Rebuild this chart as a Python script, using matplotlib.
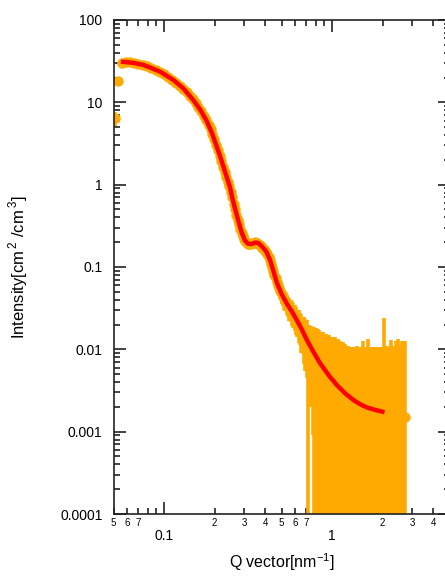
import matplotlib
matplotlib.use("Agg")
import matplotlib.pyplot as plt

plt.rcParams['font.family'] = ['Liberation Sans', 'DejaVu Sans']
plt.rcParams['mathtext.fontset'] = 'custom'
plt.rcParams['mathtext.rm'] = 'Liberation Sans'

# %% measured data (q in nm^-1, intensity, error)
q_data = [0.0510, 0.0534, 0.0559, 0.0590, 0.0625, 0.0660, 0.0700, 0.0745, 0.0790, 0.0840,
          0.0890, 0.0945, 0.1000, 0.1060, 0.1120, 0.1180, 0.1240, 0.1300, 0.1360, 0.1420,
          0.1480, 0.1540, 0.1600, 0.1660, 0.1720, 0.1780, 0.1840, 0.1890, 0.1940, 0.1990,
          0.2040, 0.2090, 0.2140, 0.2190, 0.2240, 0.2290, 0.2340, 0.2390, 0.2440, 0.2490,
          0.2540, 0.2590, 0.2640, 0.2690, 0.2740, 0.2790, 0.2840, 0.2890, 0.2940, 0.2990,
          0.3040, 0.3100, 0.3160, 0.3220, 0.3280, 0.3340, 0.3400, 0.3460, 0.3520, 0.3580,
          0.3640, 0.3700, 0.3770, 0.3840, 0.3910, 0.3980, 0.4050, 0.4120, 0.4190, 0.4260,
          0.4330, 0.4400, 0.4470, 0.4540, 0.4610, 0.4680, 0.4760, 0.4840, 0.4920, 0.5000,
          0.5090, 0.5180, 0.5270, 0.5370, 0.5470, 0.5570, 0.5670, 0.5770, 0.5880, 0.5990,
          0.6100, 0.6210, 0.6330, 0.6450, 0.6570, 0.6690, 0.6810, 0.6930, 0.7050, 0.7160,
          0.7300, 0.7450, 0.7650,
          0.78, 0.80, 0.82, 0.84, 0.86, 0.88, 0.90, 0.92, 0.94, 0.96,
          0.98, 1.00, 1.02, 1.04, 1.06, 1.08, 1.12, 1.16, 1.20, 1.24,
          1.28, 1.32, 1.36, 1.40, 1.44, 1.48, 1.52, 1.56, 1.60, 1.64,
          1.68, 1.72, 1.76, 1.80, 1.84, 1.88, 1.92, 1.96, 2.00, 2.04,
          2.08, 2.12, 2.16, 2.20, 2.24, 2.28, 2.32, 2.36, 2.40, 2.44,
          2.48, 2.52, 2.56, 2.60, 2.64, 2.68, 2.72]
I_data = [6.4, 18.2, 30.4, 31.0, 30.5, 30.0, 29.3, 28.5, 27.5, 26.3,
          25.0, 23.6, 22.1, 20.4, 18.9, 17.4, 16.0, 14.7, 13.4, 12.1,
          10.9, 9.8, 8.8, 7.8, 6.9, 6.1, 5.3, 4.7, 4.1, 3.55,
          3.05, 2.62, 2.25, 1.93, 1.66, 1.43, 1.24, 1.07, 0.95, 0.82,
          0.70, 0.59, 0.50, 0.43, 0.375, 0.33, 0.29, 0.26, 0.235, 0.217,
          0.205, 0.195, 0.190, 0.189, 0.191, 0.194, 0.197, 0.199, 0.198, 0.196,
          0.192, 0.187, 0.180, 0.172, 0.164, 0.157, 0.150, 0.142, 0.132, 0.122,
          0.110, 0.099, 0.089, 0.081, 0.073, 0.066, 0.060, 0.055, 0.051, 0.047,
          0.044, 0.041, 0.0385, 0.036, 0.034, 0.0322, 0.0305, 0.029, 0.0272, 0.0255,
          0.0238, 0.0223, 0.0208, 0.0193, 0.0180, 0.0168, 0.0156, 0.0145, 0.0135, 0.0090,
          0.0118, 0.0106, 0.0099,
          0.0094, 0.0085, 0.0077, 0.0071, 0.0066, 0.0061, 0.0057, 0.0054, 0.0050, 0.0048,
          0.0045, 0.0043, 0.0041, 0.0039, 0.0037, 0.0036, 0.0034, 0.0032, 0.0030, 0.0029,
          0.0028, 0.0026, 0.0025, 0.0024, 0.0024, 0.0023, 0.0022, 0.0021, 0.0021, 0.0020,
          0.0020, 0.0019, 0.0019, 0.0018, 0.0018, 0.0018, 0.0018, 0.0017, 0.0017, 0.0017,
          0.0017, 0.0017, 0.0016, 0.0016, 0.0016, 0.0016, 0.0016, 0.0016, 0.0015, 0.0015,
          0.0015, 0.0015, 0.0015, 0.0015, 0.0015, 0.0015, 0.0015]
err_data = [1.3, 1.7, 1.0, 0.8, 0.7, 0.6, 0.6, 0.5, 0.5, 0.5,
            0.5, 0.4, 0.4, 0.4, 0.35, 0.35, 0.3, 0.3, 0.3, 0.25,
            0.25, 0.22, 0.2, 0.18, 0.16, 0.15, 0.13, 0.12, 0.1, 0.09,
            0.08, 0.07, 0.06, 0.05, 0.05, 0.045, 0.04, 0.035, 0.03, 0.03,
            0.025, 0.022, 0.02, 0.018, 0.016, 0.015, 0.013, 0.012, 0.011, 0.011,
            0.01, 0.01, 0.01, 0.01, 0.01, 0.011, 0.011, 0.011, 0.011, 0.011,
            0.011, 0.011, 0.011, 0.011, 0.011, 0.011, 0.012, 0.012, 0.012, 0.012,
            0.012, 0.012, 0.012, 0.011, 0.011, 0.011, 0.010, 0.011, 0.010, 0.011,
            0.010, 0.011, 0.009, 0.010, 0.009, 0.010, 0.009, 0.010, 0.009, 0.009,
            0.009, 0.008, 0.009, 0.008, 0.009, 0.008, 0.009, 0.009, 0.009, 0.0090,
            0.0078, 0.0086, 0.0090,
            0.0094, 0.0097, 0.0099, 0.0101, 0.0098, 0.0102, 0.0097, 0.0100, 0.0097, 0.0101,
            0.0096, 0.0100, 0.0097, 0.0101, 0.0095, 0.0098, 0.0092, 0.0090, 0.0086, 0.0080,
            0.0078, 0.0082, 0.0081, 0.0086, 0.0080, 0.0083, 0.0106, 0.0086, 0.0082, 0.0112,
            0.0085, 0.0087, 0.0084, 0.0088, 0.0090, 0.0086, 0.0089, 0.0087, 0.0090, 0.0225,
            0.0088, 0.0092, 0.0090, 0.0087, 0.0115, 0.0089, 0.0093, 0.0088, 0.0110, 0.0091,
            0.0117, 0.0090, 0.0094, 0.0112, 0.0091, 0.0095, 0.0110]

# %% model fit
q_fit = [0.057, 0.065, 0.075, 0.0824, 0.095, 0.1135, 0.13, 0.149, 0.165, 0.1795,
         0.193, 0.2056, 0.2155, 0.2255, 0.237, 0.247, 0.2535, 0.265, 0.277, 0.29,
         0.303, 0.315, 0.33, 0.35, 0.365, 0.38, 0.395, 0.408, 0.428, 0.447,
         0.468, 0.50, 0.537, 0.575, 0.616, 0.66, 0.707, 0.77, 0.847, 0.95,
         1.065, 1.2, 1.34, 1.47, 1.61, 1.8, 1.99]
I_fit = [31, 30.2, 28.5, 26.5, 23.5, 18.7, 14.8, 10.7, 8.0, 5.9,
         4.2, 2.9, 2.2, 1.65, 1.2, 0.92, 0.72, 0.5, 0.36, 0.26,
         0.21, 0.192, 0.19, 0.198, 0.195, 0.18, 0.165, 0.15, 0.12, 0.09,
         0.065, 0.047, 0.036, 0.029, 0.0227, 0.0175, 0.013, 0.0095, 0.0068, 0.0049,
         0.0037, 0.0029, 0.00242, 0.00215, 0.00197, 0.00184, 0.00175]

y_ticks = [1e2, 1e1, 1, 1e-1, 1e-2, 1e-3, 1e-4]
y_labels = ["100", "10", "1", "0.1", "0.01", "0.001", "0.0001"]
x_major = [0.1, 1]
x_major_labels = ["0.1", "1"]
x_minor = [0.05, 0.06, 0.07, 0.08, 0.09, 0.2, 0.3, 0.4, 0.5, 0.6, 0.7, 0.8, 0.9, 2, 3, 4]
x_minor_labels = ["5", "6", "7", "", "", "2", "3", "4", "5", "6", "7", "", "", "2", "3", "4"]
y_minor = [m * 10.0**e for e in range(-4, 2) for m in range(2, 10)]

orange = "#FFAA00"

fig = plt.figure(figsize=(4.45, 5.81), dpi=100)
ax = fig.add_axes([0.2551, 0.1153, 0.7551, 0.8503])

ax.errorbar(q_data, I_data, yerr=err_data, fmt="o", color=orange, ms=7.5, mew=0,
            elinewidth=2.6, capsize=4, capthick=2, zorder=2)
ax.plot(q_fit, I_fit, color="#FF0000", lw=3.2, zorder=3)

ax.set_xscale("log")
ax.set_yscale("log")
ax.set_xlim(0.05, 5)
ax.set_ylim(1e-4, 100)

ax.set_yticks(y_ticks, y_labels)
ax.set_yticks(y_minor, [""] * len(y_minor), minor=True)
ax.set_xticks(x_major, x_major_labels)
ax.set_xticks(x_minor, x_minor_labels, minor=True)

ax.tick_params(which="both", direction="in", top=True, right=True, width=1.2, color="#222222")
ax.tick_params(which="major", length=8.5)
ax.tick_params(which="minor", length=4.3)
ax.tick_params(axis="y", which="major", labelsize=10, pad=8)
ax.tick_params(axis="x", which="major", labelsize=10, pad=11)
ax.tick_params(axis="x", which="minor", labelsize=7, pad=3)
for s in ax.spines.values():
    s.set_linewidth(1.2)
    s.set_color("#222222")

ax.set_xlabel(r"Q vector[nm$^{-1}$]", fontsize=11.5)
ax.set_ylabel(r"Intensity[cm$^{\,2}$ /cm$^{\,3}$]", fontsize=12)
ax.xaxis.set_label_coords(0.5, -0.075)
ax.yaxis.set_label_coords(-0.25, 0.5)

fig.savefig("out.png", dpi=100)
